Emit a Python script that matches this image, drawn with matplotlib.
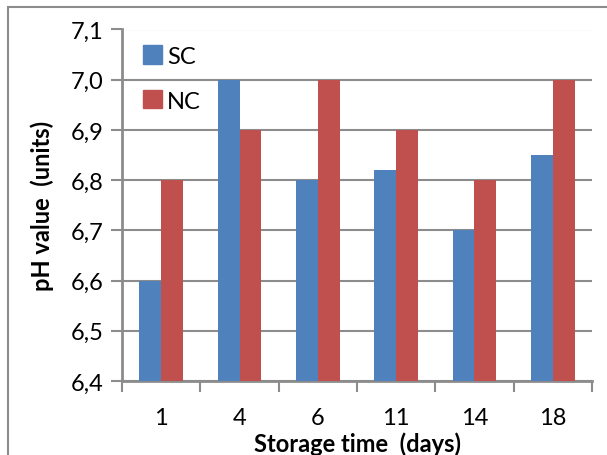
import numpy as np
import matplotlib.pyplot as plt
from matplotlib.patches import Rectangle, Patch
from matplotlib.ticker import FuncFormatter

plt.rcParams['font.family'] = ['Lato', 'DejaVu Sans']

days = ['1', '4', '6', '11', '14', '18']
sc_vals = [6.60, 7.00, 6.80, 6.82, 6.70, 6.85]
nc_vals = [6.80, 6.90, 7.00, 6.90, 6.80, 7.00]
yticks = [6.4, 6.5, 6.6, 6.7, 6.8, 6.9, 7.0, 7.1]

blue = '#4F81BD'
red = '#C0504D'
grey = '#8C8C8C'

fig = plt.figure(figsize=(6.07, 4.56), dpi=100)
ax = fig.add_axes([122/607, 1-382/456, 470/607, 351.5/456])

# outer chart frame (cut off at right / bottom)
fig.patches.append(Rectangle((8/607, -0.1), 1.2, 1-8/456+0.1, transform=fig.transFigure,
                             fill=False, edgecolor=grey, linewidth=1.5))

x = np.arange(len(days))
w = 0.28
base = 6.4
ax.bar(x - w/2, np.array(sc_vals) - base, w, bottom=base, color=blue, zorder=3)
ax.bar(x + w/2, np.array(nc_vals) - base, w, bottom=base, color=red, zorder=3)

ax.set_xlim(-0.5, len(days) - 0.5)
ax.set_ylim(6.4, 7.1)
ax.set_yticks(yticks)
ax.yaxis.set_major_formatter(FuncFormatter(lambda v, p: ('%.1f' % v).replace('.', ',')))
ax.set_xticks(x)
ax.set_xticklabels(days)
ax.set_xticks(np.arange(-0.5, len(days)), minor=True)

ax.tick_params(axis='x', which='major', length=0, labelsize=17, pad=19)
ax.tick_params(axis='x', which='minor', length=8, width=1.5, color=grey)
ax.tick_params(axis='y', length=8, width=1.5, color=grey, labelsize=17, pad=5)

ax.yaxis.grid(True, color=grey, linewidth=1.5, zorder=0)
ax.set_axisbelow(True)
for s in ['top', 'right']:
    ax.spines[s].set_visible(False)
for s in ['left', 'bottom']:
    ax.spines[s].set_color(grey)
    ax.spines[s].set_linewidth(2)

ax.set_xlabel('Storage time  (days)', fontsize=17, fontweight='bold')
ax.xaxis.set_label_coords(0.5, (382 - 444) / 351.5)
ax.xaxis.label.set_va('center')
ax.set_ylabel('pH value  (units)', fontsize=17, fontweight='bold')
ax.yaxis.set_label_coords((42 - 122) / 470, 0.5)
ax.yaxis.label.set_va('center')

handles = [Patch(color=blue, label='SC'), Patch(color=red, label='NC')]
ax.legend(handles=handles, loc='upper left', bbox_to_anchor=(0.0, 1.015), frameon=False,
          fontsize=17, handlelength=0.8, handleheight=0.8, handletextpad=0.2,
          labelspacing=1.0)

fig.savefig('out.png', dpi=100)
